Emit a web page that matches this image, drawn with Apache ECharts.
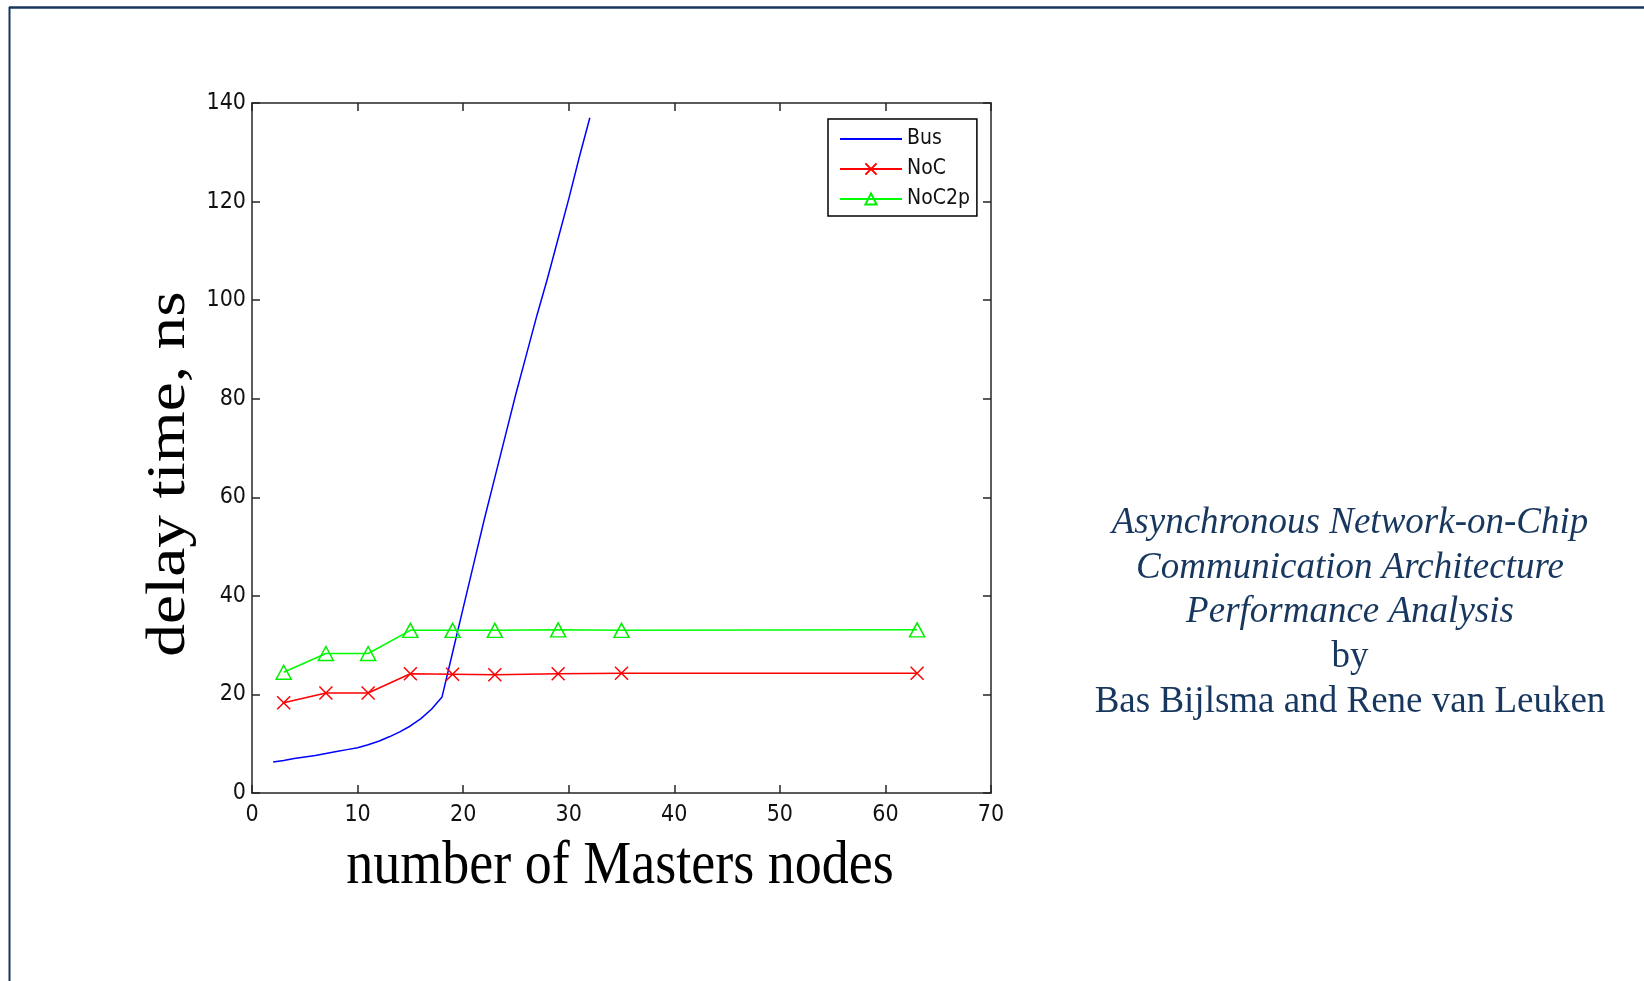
<!DOCTYPE html>
<html>
<head>
<meta charset="utf-8">
<title>delay time vs number of Masters nodes</title>
<script src="https://cdn.jsdelivr.net/npm/echarts@6/dist/echarts.min.js"></script>
<style>
  html, body { margin: 0; padding: 0; background: #fff; }
  #main { width: 1644px; height: 981px; }
</style>
</head>
<body>
<div id="main"></div>
<script>
// data
var busX = [2, 3, 4, 5, 6, 7, 8, 9, 10, 11, 12, 13, 14, 15, 16, 17, 18, 19, 20, 21, 22, 23, 24, 25, 26, 27, 28, 29, 30, 31, 32]
var busY = [6.3, 6.6, 7.0, 7.3, 7.6, 8.0, 8.4, 8.8, 9.2, 9.8, 10.5, 11.4, 12.4, 13.6, 15.1, 17.0, 19.5, 28.5, 37.5, 46.5, 55.5, 64, 72.5, 81, 89, 97, 104.5, 112.5, 120.5, 129, 137]
var nocX = [3, 7, 11, 15, 19, 23, 29, 35, 63]
var nocY = [18.3, 20.3, 20.3, 24.2, 24.1, 24.0, 24.2, 24.3, 24.3]
var noc2pY = [24.5, 28.3, 28.3, 33.0, 33.0, 33.0, 33.1, 33.0, 33.1]
var seriesNames = ['Bus', 'NoC', 'NoC2p']
var xTicks = [0, 10, 20, 30, 40, 50, 60, 70]
var yTicks = [0, 20, 40, 60, 80, 100, 120, 140]
var sideText = ['Asynchronous Network-on-Chip', 'Communication Architecture', 'Performance Analysis', 'by', 'Bas Bijlsma and Rene van Leuken']

function pairs(xs, ys) {
  return xs.map(function (x, i) { return [x, ys[i]] })
}

var axisColor = '#262626'
var tickFont = "'Liberation Sans Narrow', 'DejaVu Sans Condensed', sans-serif"
var serifFont = "'Liberation Serif', 'DejaVu Serif', serif"
var navy = '#17375e'

function baseAxis(min, max, step) {
  return {
    type: 'value',
    min: min,
    max: max,
    interval: step,
    axisLine: { show: true, onZero: false, lineStyle: { color: axisColor, width: 1.5 } },
    axisTick: { show: true, inside: true, length: 8, lineStyle: { color: axisColor, width: 1.5 } },
    splitLine: { show: false }
  }
}

var xMain = baseAxis(xTicks[0], xTicks[xTicks.length - 1], xTicks[1] - xTicks[0])
xMain.position = 'bottom'
xMain.axisLabel = { color: '#111', fontFamily: tickFont, fontSize: 23, margin: 11 }
var xTop = baseAxis(xTicks[0], xTicks[xTicks.length - 1], xTicks[1] - xTicks[0])
xTop.position = 'top'
xTop.axisLabel = { show: false }

var yMain = baseAxis(yTicks[0], yTicks[yTicks.length - 1], yTicks[1] - yTicks[0])
yMain.position = 'left'
yMain.axisLabel = { color: '#111', fontFamily: tickFont, fontSize: 23, margin: 6, padding: [8, 0, 0, 0] }
var yRight = baseAxis(yTicks[0], yTicks[yTicks.length - 1], yTicks[1] - yTicks[0])
yRight.position = 'right'
yRight.axisLabel = { show: false }

var textBlock = sideText.map(function (t, i) {
  return {
    type: 'text',
    x: 1350,
    y: 523 + i * 44.8,
    style: {
      text: t,
      x: 0,
      y: 0,
      align: 'center',
      verticalAlign: 'middle',
      fill: navy,
      fontFamily: "'Liberation Serif', 'Times New Roman', serif",
      fontStyle: i < 3 ? 'italic' : 'normal',
      fontSize: 37
    }
  }
})

var myChart = echarts.init(document.getElementById('main'))
var option = {
  backgroundColor: '#fff',
  animation: false,
  grid: { left: 252, top: 103, width: 739, height: 690, containLabel: false },
  legend: {
    data: seriesNames,
    orient: 'vertical',
    left: 828,
    top: 119,
    padding: [9, 7, 6, 11],
    itemGap: 8,
    itemWidth: 62,
    itemHeight: 14,
    borderColor: '#000',
    borderWidth: 1.5,
    backgroundColor: '#fff',
    textStyle: { color: '#111', fontFamily: tickFont, fontSize: 21, lineHeight: 22 }
  },
  xAxis: [xMain, xTop],
  yAxis: [yMain, yRight],
  series: [
    {
      name: seriesNames[0],
      type: 'line',
      symbol: 'circle',
      showSymbol: false,
      data: pairs(busX, busY),
      lineStyle: { color: '#0000ff', width: 1.5 },
      itemStyle: { color: 'rgba(0,0,0,0)' }
    },
    {
      name: seriesNames[1],
      type: 'line',
      data: pairs(nocX, nocY),
      symbol: 'path://M0,0L10,10M10,0L0,10',
      symbolSize: [13, 13],
      lineStyle: { color: '#ff0000', width: 1.5 },
      itemStyle: { color: 'rgba(0,0,0,0)', borderColor: '#ff0000', borderWidth: 1.5 }
    },
    {
      name: seriesNames[2],
      type: 'line',
      data: pairs(nocX, noc2pY),
      symbol: 'path://M5,0L10,10L0,10Z',
      symbolSize: [15, 14],
      lineStyle: { color: '#00ff00', width: 1.5 },
      itemStyle: { color: 'rgba(0,0,0,0)', borderColor: '#00ee00', borderWidth: 1.5 }
    }
  ],
  graphic: [
    {
      type: 'line',
      shape: { x1: 9, y1: 7.5, x2: 1644, y2: 7.5 },
      style: { stroke: navy, lineWidth: 2.5 }
    },
    {
      type: 'line',
      shape: { x1: 9.5, y1: 7, x2: 9.5, y2: 981 },
      style: { stroke: navy, lineWidth: 2 }
    },
    {
      type: 'text',
      x: 620,
      y: 867,
      scaleY: 1.13,
      style: {
        text: 'number of Masters nodes',
        align: 'center',
        verticalAlign: 'middle',
        fill: '#000',
        fontFamily: serifFont,
        fontSize: 54
      }
    },
    {
      type: 'text',
      x: 170,
      y: 474,
      rotation: Math.PI / 2,
      scaleX: 1.19,
      style: {
        text: 'delay time, ns',
        align: 'center',
        verticalAlign: 'middle',
        fill: '#000',
        fontFamily: serifFont,
        fontSize: 55
      }
    }
  ].concat(textBlock)
}

myChart.setOption(option)
</script>
</body>
</html>
